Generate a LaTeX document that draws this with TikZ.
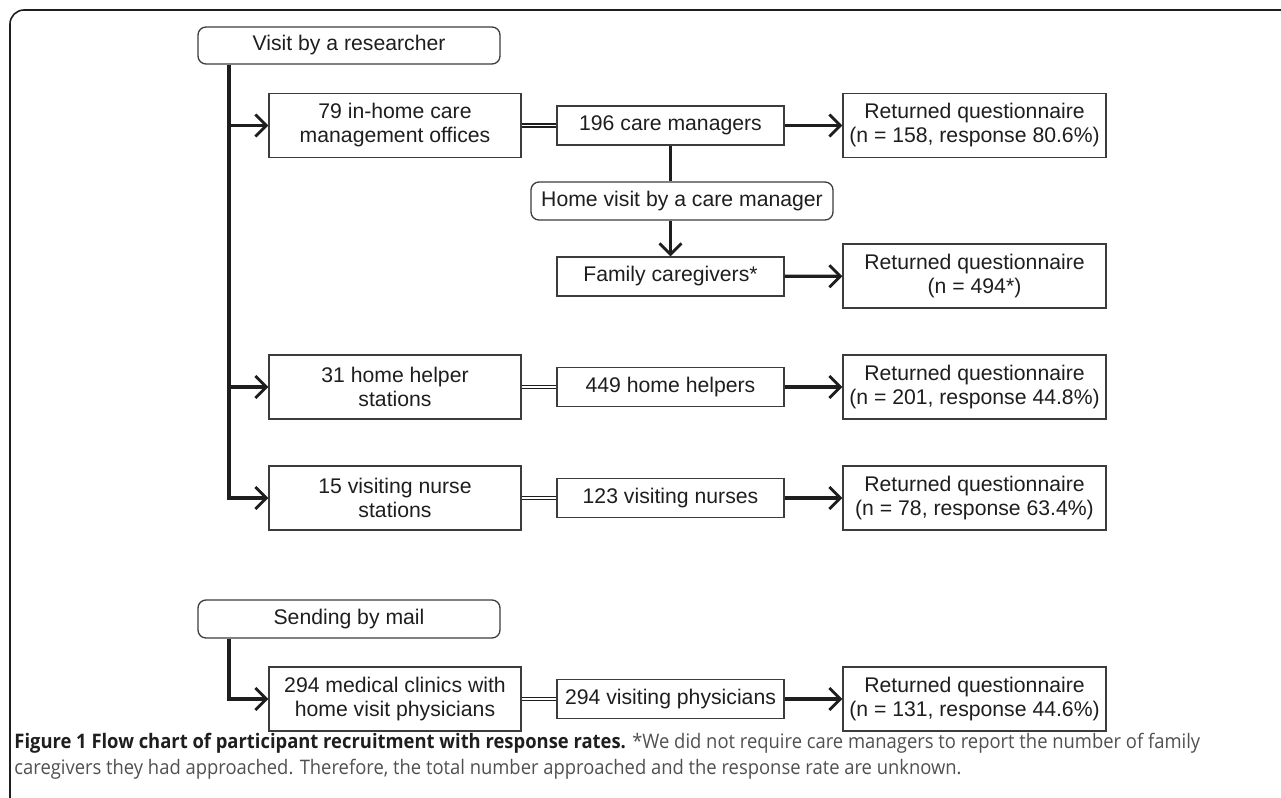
\documentclass[tikz,border=0pt]{standalone}
\usepackage{fontspec}
\setmainfont{Liberation Sans}
\newfontfamily\capfont[FakeStretch=0.92]{Open Sans}
\usetikzlibrary{arrows.meta}

\definecolor{inkgray}{HTML}{1E1E1E}
\definecolor{boxgray}{HTML}{3C3C3C}
\definecolor{capgray}{HTML}{505050}

\tikzset{
  box/.style={draw=boxgray, line width=0.65pt, inner sep=0pt, align=center,
    text=inkgray, font=\fontsize{10.6}{12}\selectfont},
  rbox/.style={box, rounded corners=4pt},
  srcbox/.style={box, minimum width=126pt, minimum height=32pt},
  midbox/.style={box, minimum width=113.5pt, minimum height=19.5pt},
  retbox/.style={box, minimum width=131.5pt, minimum height=32pt},
  flow/.style={draw=inkgray, line width=1.6pt,
    -{Straight Barb[length=5.5pt,width=11pt,line width=1.4pt]}},
  link/.style={draw=inkgray, line width=1.6pt},
  dbl/.style={draw=inkgray, line width=0.6pt, double=white, double distance=0.9pt},
  captext/.style={anchor=base west, inner sep=0pt, font=\capfont\fontsize{10}{12}\selectfont}
}

\begin{document}
\begin{tikzpicture}[x=0.5pt,y=-0.5pt]
\useasboundingbox (0,0) rectangle (1281,798);

% Frame
\draw[draw=inkgray, line width=0.8pt, rounded corners=7pt] (10,820) |- (1300,10);

%% VISIT BY A RESEARCHER
\node[rbox, minimum width=151pt, minimum height=18.5pt] (visit) at (349,45.5) {Visit by a researcher};
\coordinate (vx) at (229,0);

% Rows
\foreach \i/\y/\src/\mid/\ret in {
  1/125.5/{79 in-home care\\management offices}/{196 care managers}/{Returned questionnaire\\(n = 158, response 80.6\%)},
  2/387/{31 home helper\\stations}/{449 home helpers}/{Returned questionnaire\\(n = 201, response 44.8\%)},
  3/498/{15 visiting nurse\\stations}/{123 visiting nurses}/{Returned questionnaire\\(n = 78, response 63.4\%)},
  4/699/{294 medical clinics with\\home visit physicians}/{294 visiting physicians}/{Returned questionnaire\\(n = 131, response 44.6\%)}}
{
  \node[srcbox] (src\i) at (395,\y) {\src};
  \node[midbox] (mid\i) at (670.5,\y) {\mid};
  \node[retbox] (ret\i) at (974.5,\y) {\ret};
  \draw[dbl] (src\i) -- (mid\i);
  \draw[flow] (mid\i) -- (ret\i);
}

% Trunk
\draw[flow] (visit.south -| vx) |- (src3);
\draw[flow] (vx |- src1) -- (src1);
\draw[flow] (vx |- src2) -- (src2);

% Home visit
\node[rbox, minimum width=151pt, minimum height=19pt] (homevisit) at (682,201) {Home visit by a care manager};
\node[midbox] (family) at (670.5,276.5) {Family caregivers*};
\node[retbox] (retfam) at (974.5,276) {Returned questionnaire\\(n = 494*)};
\draw[link] (mid1) -- (mid1 |- homevisit.north);
\draw[flow] (mid1 |- homevisit.south) -- (family);
\draw[flow] (family) -- (retfam);

%% SENDING BY MAIL
\node[rbox, minimum width=151pt, minimum height=19pt] (mail) at (349,619) {Sending by mail};
\draw[flow] (mail.south -| vx) |- (src4);

% Caption
\node[captext] (cap1) at (14,748) {{\bfseries\color{inkgray}Figure 1 Flow chart of participant recruitment with response rates.} {\color{capgray}*We did not require care managers to report the number of family}};
\node[captext, text=capgray] (cap2) at (14,774) {caregivers they had approached. Therefore, the total number approached and the response rate are unknown.};
\end{tikzpicture}
\end{document}
